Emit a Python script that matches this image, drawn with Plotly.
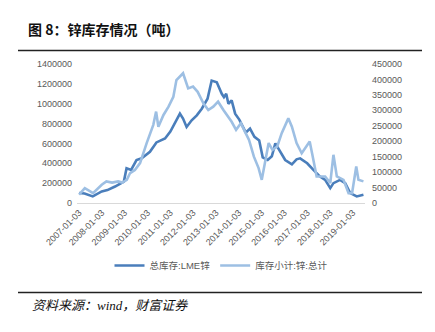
import plotly.graph_objects as go

# ---- data ----
lme_dates = ["2007-01-03", "2007-04-01", "2007-08-10", "2008-01-01", "2008-04-01", "2008-08-01",
             "2008-12-20", "2009-02-01", "2009-04-15", "2009-07-10", "2009-10-01", "2010-02-10",
             "2010-05-25", "2010-10-10", "2011-01-03", "2011-04-10", "2011-06-05", "2011-07-25",
             "2011-09-20", "2011-12-10", "2012-03-01", "2012-05-20", "2012-07-10", "2012-08-20",
             "2012-10-25", "2013-01-15", "2013-04-05", "2013-05-10", "2013-06-15", "2013-07-20",
             "2013-09-10", "2013-11-05", "2014-01-10", "2014-04-25", "2014-07-01", "2014-09-10",
             "2014-11-25", "2015-01-20", "2015-04-10", "2015-06-15", "2015-08-10", "2015-10-20",
             "2016-01-15", "2016-05-01", "2016-07-15", "2016-09-10", "2017-01-01", "2017-04-10",
             "2017-07-25", "2017-10-15", "2018-01-05", "2018-02-25", "2018-06-10", "2018-09-01",
             "2018-11-20", "2019-03-05", "2019-06-20"]
lme_values = [100000, 95000, 66000, 116000, 130000, 166000,
              216000, 350000, 333000, 433000, 450000, 516000,
              610000, 650000, 720000, 833000, 900000, 850000,
              766000, 833000, 883000, 950000, 1000000, 1050000,
              1233000, 1216000, 1100000, 1066000, 1100000, 1000000,
              1033000, 900000, 840000, 710000, 750000, 666000,
              630000, 460000, 433000, 470000, 600000, 520000,
              433000, 390000, 440000, 450000, 400000, 333000,
              266000, 233000, 150000, 200000, 233000, 200000,
              100000, 66000, 83000]

shfe_dates = ["2007-01-03", "2007-04-05", "2007-08-15", "2008-01-01", "2008-03-15", "2008-06-15",
              "2008-09-20", "2008-11-25", "2009-02-05", "2009-03-30", "2009-06-15", "2009-09-05",
              "2009-12-20", "2010-04-05", "2010-05-20", "2010-06-25", "2010-09-15", "2010-12-05",
              "2011-02-20", "2011-04-10", "2011-07-25", "2011-10-15", "2012-01-01", "2012-03-15",
              "2012-06-15", "2012-09-01", "2012-11-20", "2013-02-05", "2013-05-01", "2013-09-10",
              "2013-11-20", "2014-02-05", "2014-04-10", "2014-06-15", "2014-09-01", "2014-11-15",
              "2015-01-05", "2015-03-10", "2015-04-25", "2015-06-25", "2015-09-10", "2015-11-20",
              "2016-03-05", "2016-05-01", "2016-07-15", "2016-10-05", "2017-02-10", "2017-03-20",
              "2017-06-01", "2017-10-15", "2018-01-05", "2018-02-25", "2018-04-20", "2018-08-05",
              "2018-10-25", "2018-12-20", "2019-02-25", "2019-04-01", "2019-06-20"]
shfe_values = [27000, 48000, 32000, 59000, 70000, 66000,
               70000, 66000, 75000, 97000, 107000, 129000,
               194000, 253000, 296000, 247000, 285000, 312000,
               344000, 398000, 420000, 371000, 377000, 360000,
               323000, 301000, 312000, 328000, 301000, 263000,
               237000, 258000, 231000, 204000, 150000, 113000,
               75000, 140000, 194000, 172000, 183000, 226000,
               274000, 247000, 194000, 161000, 199000, 161000,
               86000, 86000, 64500, 156000, 86000, 75000,
               32000, 32000, 118000, 75000, 70000]

tick_dates = ["%d-01-03" % y for y in range(2007, 2020)]
tick_labels = ["%d-01-03" % y for y in range(2007, 2020)]
left_ticks = list(range(0, 1400001, 200000))
right_ticks = list(range(0, 450001, 50000))

series_names = ["总库存:LME锌", "库存小计:锌:总计"]
title_text = "图 8：锌库存情况（吨）"
source_text = "资料来源：wind，财富证券"

DARK = "#4a7ebb"
LIGHT = "#9dbfe3"
GRAY = "#595959"

fig = go.Figure()
fig.add_trace(go.Scatter(x=lme_dates, y=lme_values, name=series_names[0], mode="lines",
                         line=dict(color=DARK, width=2.6), yaxis="y"))
fig.add_trace(go.Scatter(x=shfe_dates, y=shfe_values, name=series_names[1], mode="lines",
                         line=dict(color=LIGHT, width=2.6), yaxis="y2"))

fig.update_layout(
    width=435, height=332,
    margin=dict(l=77, r=70, t=64, b=129),
    paper_bgcolor="white", plot_bgcolor="white",
    font=dict(family="Liberation Sans, Noto Sans CJK SC", size=9, color=GRAY),
    showlegend=True,
    legend=dict(orientation="h", x=0.5, xanchor="center", y=-0.45, yanchor="middle",
                font=dict(size=9.5, color=GRAY, family="Liberation Sans, Noto Sans CJK SC"),
                itemwidth=30, tracegroupgap=0),
    xaxis=dict(type="date", range=["2006-12-01", "2019-07-15"],
               tickvals=tick_dates, ticktext=tick_labels, tickangle=-45,
               showgrid=False, zeroline=False, showline=True, linecolor="#d9d9d9", linewidth=1,
               ticks="", tickfont=dict(size=9, color=GRAY)),
    yaxis=dict(range=[0, 1400000], tickvals=left_ticks, tickformat="d",
               showgrid=False, zeroline=False, showline=False, ticks="",
               ticklabelstandoff=4, tickfont=dict(size=9, color=GRAY)),
    yaxis2=dict(range=[0, 450000], tickvals=right_ticks, tickformat="d",
                overlaying="y", side="right", showgrid=False, zeroline=False,
                showline=False, ticks="", ticklabelstandoff=6,
                tickfont=dict(size=9, color=GRAY)),
    title=dict(text="<b>" + title_text + "</b>", x=28 / 435, xanchor="left",
               y=1 - 30 / 332, yanchor="middle",
               font=dict(family="Noto Sans CJK SC", size=14, color="#111111")),
)

# header / footer rules (paper coordinates relative to plot area)
def px_x(x):
    return (x - 77) / 288.0

def px_y(y):
    return (203 - y) / 139.0

fig.add_shape(type="line", xref="paper", yref="paper", x0=px_x(18), x1=px_x(422),
              y0=px_y(50.5), y1=px_y(50.5), line=dict(color="#222222", width=1.5))
fig.add_shape(type="line", xref="paper", yref="paper", x0=px_x(18), x1=px_x(422),
              y0=px_y(292.5), y1=px_y(292.5), line=dict(color="#222222", width=1.5))
fig.add_annotation(xref="paper", yref="paper", x=px_x(30), y=px_y(305), xanchor="left",
                   yanchor="middle", showarrow=False, text="<i>" + source_text + "</i>",
                   font=dict(family="Liberation Serif, Noto Sans CJK SC", size=13, color="#111111"))

fig.write_html("out.html")
